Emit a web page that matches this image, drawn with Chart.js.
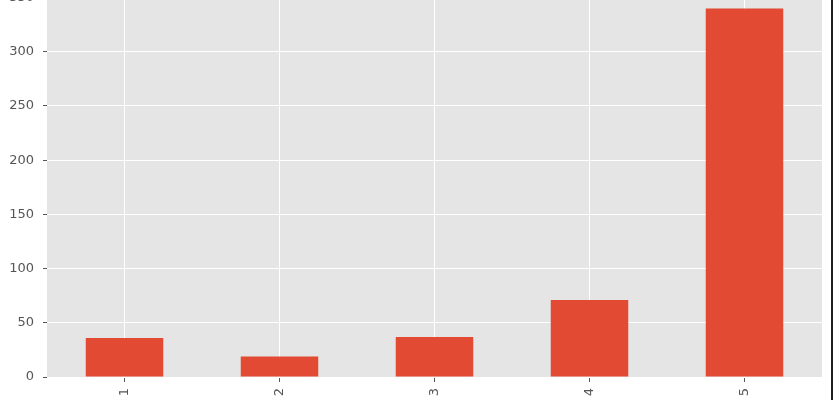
<!DOCTYPE html>
<html>
<head>
<meta charset="utf-8">
<script src="https://cdn.jsdelivr.net/npm/chart.js@4"></script>
<style>
  html, body { margin: 0; padding: 0; background: #fff; overflow: hidden; }
  body { width: 833px; height: 400px; position: relative; }
  #wrap { position: absolute; left: 0; top: -14px; width: 833px; height: 414px; }
  #edge { position: absolute; right: 0; top: 0; width: 2px; height: 400px; background: #1e1e1e; }
</style>
</head>
<body>
<div id="wrap"><canvas id="barChart"></canvas></div>
<div id="edge"></div>
<script>
// categories and values
const categories = ['1', '2', '3', '4', '5'];
const counts = [36, 19, 37, 71, 340];
const yTicks = [0, 50, 100, 150, 200, 250, 300, 350];

// grey panel behind the bars, like the ggplot style
const panelBackground = {
    id: 'panelBackground',
    beforeDraw(chart) {
        const { ctx, chartArea } = chart;
        ctx.save();
        ctx.fillStyle = '#E5E5E5';
        ctx.fillRect(chartArea.left, chartArea.top, chartArea.width, chartArea.height);
        ctx.restore();
    }
};

function initialiseChart() {
    const ctx = document.getElementById('barChart').getContext('2d');
    new Chart(ctx, {
        type: 'bar',
        data: {
            labels: categories,
            datasets: [{
                data: counts,
                backgroundColor: '#E24A33',
                borderWidth: 0,
                barPercentage: 0.5,
                categoryPercentage: 1.0
            }]
        },
        options: {
            responsive: true,
            maintainAspectRatio: false,
            animation: false,
            layout: { padding: { top: 4, right: 11, left: 0, bottom: 0 } },
            plugins: {
                legend: { display: false },
                tooltip: { enabled: false }
            },
            scales: {
                x: {
                    offset: true,
                    border: { display: false },
                    grid: {
                        offset: false,
                        color: '#FFFFFF',
                        lineWidth: 1,
                        tickColor: '#555555',
                        tickLength: 5
                    },
                    ticks: {
                        color: '#555555',
                        font: { family: 'DejaVu Sans', size: 13 },
                        minRotation: 90,
                        maxRotation: 90,
                        padding: 6
                    },
                    afterFit(scale) {
                        scale.height = 23;
                        scale.paddingLeft = 0;
                        scale.paddingRight = 0;
                    }
                },
                y: {
                    min: 0,
                    max: 357,
                    border: { display: false },
                    grid: {
                        color: '#FFFFFF',
                        lineWidth: 1,
                        tickColor: '#555555',
                        tickLength: 4
                    },
                    ticks: {
                        color: '#555555',
                        font: { family: 'DejaVu Sans', size: 13 },
                        padding: 9
                    },
                    afterBuildTicks(scale) {
                        scale.ticks = yTicks.map(v => ({ value: v }));
                    },
                    afterFit(scale) {
                        scale.width = 47;
                        scale.paddingTop = 0;
                        scale.paddingBottom = 0;
                    }
                }
            }
        },
        plugins: [panelBackground]
    });
}

document.addEventListener('DOMContentLoaded', initialiseChart);
</script>
</body>
</html>
